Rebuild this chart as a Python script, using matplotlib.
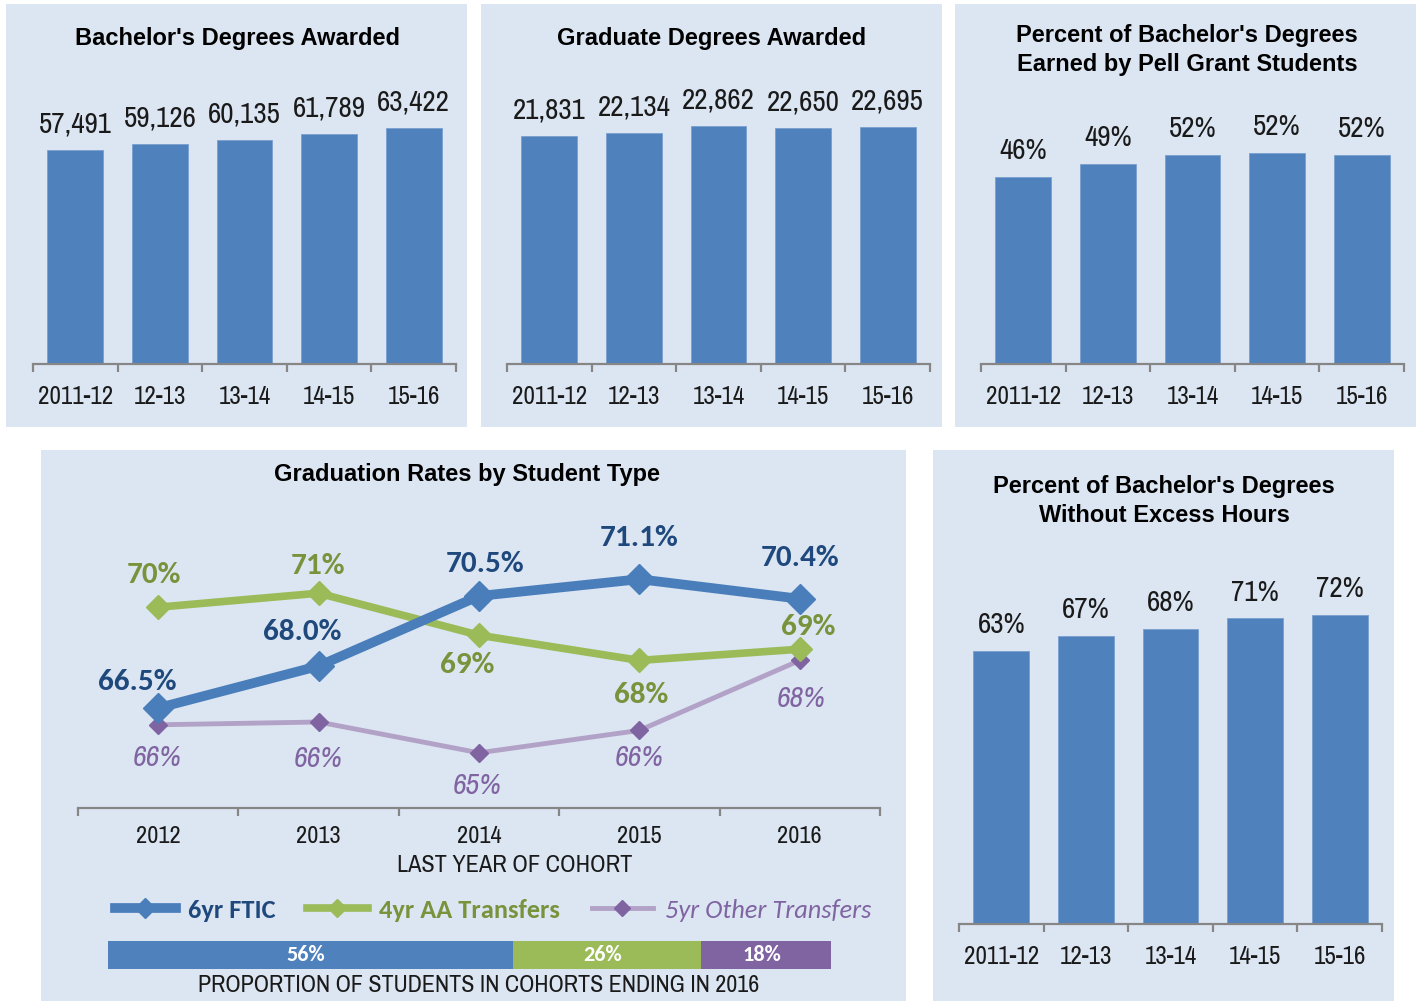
import numpy as np
import matplotlib
matplotlib.use('Agg')
import matplotlib.pyplot as plt
from matplotlib.patches import Rectangle
from matplotlib.lines import Line2D

W, H = 1418, 1001

# ---- data ----
years = ['2011-12', '12-13', '13-14', '14-15', '15-16']
bachelors = [57491, 59126, 60135, 61789, 63422]
graduate = [21831, 22134, 22862, 22650, 22695]
pell_pct = [46.1, 49.3, 51.6, 52.0, 51.6]
pell_labels = ['46%', '49%', '52%', '52%', '52%']
no_excess_pct = [63.2, 66.7, 68.3, 70.8, 71.6]
no_excess_labels = ['63%', '67%', '68%', '71%', '72%']

cohort_years = ['2012', '2013', '2014', '2015', '2016']
ftic = [66.5, 68.0, 70.5, 71.1, 70.4]
ftic_labels = ['66.5%', '68.0%', '70.5%', '71.1%', '70.4%']
aa = [70.1, 70.6, 69.1, 68.2, 68.6]
aa_labels = ['70%', '71%', '69%', '68%', '69%']
other = [65.9, 66.0, 64.9, 65.7, 68.2]
other_labels = ['66%', '66%', '65%', '66%', '68%']
proportion = [56, 26, 18]
proportion_names = ['6yr FTIC', '4yr AA Transfers', '5yr Other Transfers']

# ---- styles ----
BG = '#dce6f2'
BAR_BLUE = '#4f81bd'
AXIS_GRAY = '#868686'
TXT = '#1a1a1a'
NARROW = ['Archivo Narrow', 'Liberation Sans Narrow', 'DejaVu Sans']
ARIAL = ['Liberation Sans', 'DejaVu Sans']
CAL = ['Carlito', 'Lato', 'DejaVu Sans']

fig = plt.figure(figsize=(W / 100, H / 100), dpi=100, facecolor='white')


def px_axes(x0, y0, x1, y1):
    return fig.add_axes([x0 / W, 1 - y1 / H, (x1 - x0) / W, (y1 - y0) / H])


def panel(x0, y0, x1, y1):
    fig.add_artist(Rectangle((x0 / W, 1 - y1 / H), (x1 - x0) / W, (y1 - y0) / H,
                             transform=fig.transFigure, facecolor=BG,
                             edgecolor='none', zorder=0))


def title(cx, cy, s):
    fig.text(cx / W, 1 - cy / H, s, ha='center', va='center', fontsize=17,
             fontweight='bold', family=ARIAL, color='black', linespacing=1.3)


def style_axis(ax, labels, pad, size):
    n = len(labels)
    ax.set_facecolor('none')
    for s in ['top', 'right', 'left']:
        ax.spines[s].set_visible(False)
    ax.spines['bottom'].set_color(AXIS_GRAY)
    ax.spines['bottom'].set_linewidth(1.6)
    ax.set_yticks([])
    ax.set_xlim(-0.5, n - 0.5)
    ax.set_xticks(range(n))
    ax.set_xticklabels(labels, family=NARROW, fontsize=size, color=TXT)
    ax.set_xticks(np.arange(n + 1) - 0.5, minor=True)
    ax.tick_params(axis='x', which='minor', length=6, color=AXIS_GRAY, width=1.6)
    ax.tick_params(axis='x', which='major', length=0, pad=pad)


def bar_panel(x0, x1, base, top, ymax, values, labels):
    ax = px_axes(x0, top, x1, base)
    bars = ax.bar(range(len(values)), values, width=0.66, color=BAR_BLUE,
                  edgecolor='#7a9fcf', linewidth=0.6)
    ax.set_ylim(0, ymax)
    style_axis(ax, years, 15, 18)
    ax.bar_label(bars, labels=labels, padding=9, family=NARROW, fontsize=21, color=TXT)
    return ax


# ---- panels ----
panel(6, 4, 467, 427)
panel(481, 4, 942, 427)
panel(955, 4, 1416, 427)
panel(41, 450, 906, 1001)
panel(933, 450, 1394, 1001)

bar_panel(33, 456, 364, 80, 284 * 268.5, bachelors, [f'{v:,}' for v in bachelors])
title(238, 39, "Bachelor's Degrees Awarded")

bar_panel(507, 930, 364, 80, 284 * 95.9, graduate, [f'{v:,}' for v in graduate])
title(712, 39, 'Graduate Degrees Awarded')

bar_panel(981, 1404, 364, 80, 284 / 4.06, pell_pct, pell_labels)
title(1187, 50, "Percent of Bachelor's Degrees\nEarned by Pell Grant Students")

bar_panel(959, 1382, 924, 560, 364 / 4.32, no_excess_pct, no_excess_labels)
title(1164, 501, "Percent of Bachelor's Degrees\nWithout Excess Hours")

# ---- graduation rates line chart ----
ax = px_axes(78, 520, 880, 808)
x = np.arange(len(cohort_years))
c_ftic, c_ftic_t = '#4a7ebb', '#1f497d'
c_aa, c_aa_t = '#9bbb59', '#77933c'
c_ot_line, c_ot = '#b3a2c7', '#8064a2'

ax.plot(x, other, color=c_ot_line, lw=3.5, marker='D', ms=9, mfc=c_ot, mec=c_ot, zorder=2)
ax.plot(x, aa, color=c_aa, lw=5.5, marker='D', ms=12, mfc=c_aa, mec=c_aa, zorder=3)
ax.plot(x, ftic, color=c_ftic, lw=7, marker='D', ms=15, mfc=c_ftic, mec=c_ftic, zorder=4)
ax.set_ylim(66.5 - 100 / 28, 66.5 - 100 / 28 + 288 / 28)
style_axis(ax, cohort_years, 13, 17.5)

ftic_off = [(-21, 26), (-16, 34), (6, 32), (0, 41), (0, 41)]
aa_off = [(-4, 32), (-1, 27), (-12, -30), (2, -35), (8, 22)]
ot_off = [(-1, -33), (0, -37), (-2, -33), (0, -27), (1, -38)]
for i in range(len(x)):
    for vals, labs, offs, col, fam, sty in [
            (ftic, ftic_labels, ftic_off, c_ftic_t, CAL, 'normal'),
            (aa, aa_labels, aa_off, c_aa_t, CAL, 'normal'),
            (other, other_labels, ot_off, c_ot, NARROW, 'italic')]:
        dx, dy = offs[i]
        ax.annotate(labs[i], (x[i], vals[i]), xytext=(dx / 1.389, dy / 1.389),
                    textcoords='offset points', ha='center', va='center',
                    fontsize=22.5 if sty == 'normal' else 21.5,
                    fontweight='bold' if sty == 'normal' else 'normal',
                    fontstyle=sty, family=fam, color=col)

title(467, 475, 'Graduation Rates by Student Type')
fig.text(515 / W, 1 - 866 / H, 'LAST YEAR OF COHORT', ha='center', va='center',
         family=NARROW, fontsize=17.5, color=TXT)

handles = [
    Line2D([], [], color=c_ftic, lw=7, marker='D', ms=10, mfc=c_ftic, mec=c_ftic),
    Line2D([], [], color=c_aa, lw=5.5, marker='D', ms=9, mfc=c_aa, mec=c_aa),
    Line2D([], [], color=c_ot_line, lw=3.5, marker='D', ms=8, mfc=c_ot, mec=c_ot),
]
leg = fig.legend(handles, proportion_names, loc='center', ncol=3,
                 bbox_to_anchor=(493 / W, 1 - 910 / H), frameon=False,
                 handlelength=2.3, handletextpad=0.45, columnspacing=1.2,
                 prop={'family': CAL, 'size': 19})
for t, col, w, s in zip(leg.get_texts(), [c_ftic_t, c_aa_t, c_ot],
                        ['bold', 'bold', 'normal'], ['normal', 'normal', 'italic']):
    t.set_color(col)
    t.set_fontweight(w)
    t.set_fontstyle(s)

# ---- proportion bar ----
pax = px_axes(108, 941, 831, 969)
left = 0
for val, col in zip(proportion, [BAR_BLUE, c_aa, c_ot]):
    pax.barh(0, val, left=left, height=1, color=col)
    pax.text(left + val / 2 - 0.6, 0, f'{val}%', ha='center', va='center', color='white',
             fontweight='bold', family=CAL, fontsize=16)
    left += val
pax.set_xlim(0, sum(proportion))
pax.set_ylim(-0.5, 0.5)
pax.axis('off')
fig.text(479 / W, 1 - 986 / H, 'PROPORTION OF STUDENTS IN COHORTS ENDING IN 2016',
         ha='center', va='center', family=NARROW, fontsize=17.3, color=TXT)

fig.savefig('out.png', dpi=100, facecolor='white')
